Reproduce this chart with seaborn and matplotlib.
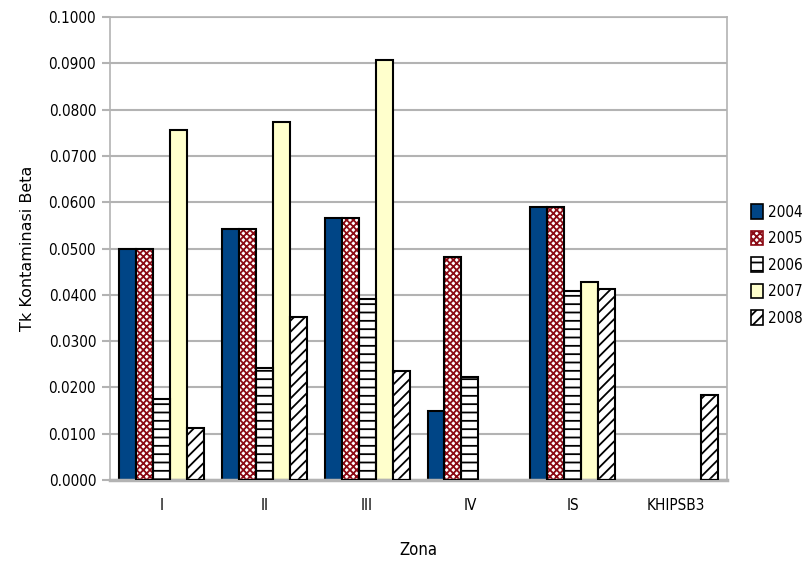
import pandas as pd
import matplotlib.pyplot as plt
import seaborn as sns
from matplotlib.patches import Patch, Rectangle

# values
zones = ['I', 'II', 'III', 'IV', 'IS', 'KHIPSB3']
years = ['2004', '2005', '2006', '2007', '2008']
v2004 = [0.0500, 0.0543, 0.0565, 0.0149, 0.0589, 0.0]
v2005 = [0.0500, 0.0543, 0.0565, 0.0481, 0.0589, 0.0]
v2006 = [0.0175, 0.0241, 0.0390, 0.0222, 0.0408, 0.0]
v2007 = [0.0756, 0.0774, 0.0908, 0.0, 0.0427, 0.0]
v2008 = [0.0112, 0.0353, 0.0235, 0.0, 0.0412, 0.0183]

GRID = '#b3b3b3'
styles = {
    '2004': dict(facecolor='#004586', hatch=None, hcolor='black'),
    '2005': dict(facecolor='white', hatch='xxxxx', hcolor='#8b0a14'),
    '2006': dict(facecolor='white', hatch='--', hcolor='black'),
    '2007': dict(facecolor='#ffffcc', hatch=None, hcolor='black'),
    '2008': dict(facecolor='white', hatch='///', hcolor='black'),
}

rows = []
for yr, vals in zip(years, [v2004, v2005, v2006, v2007, v2008]):
    for z, v in zip(zones, vals):
        rows.append({'Zona': z, 'Tahun': yr, 'Nilai': v})
df = pd.DataFrame(rows)

sns.set_theme(style='white')
plt.rcParams['font.family'] = ['DejaVu Sans']
plt.rcParams['font.stretch'] = 'condensed'
plt.rcParams['text.color'] = 'black'
plt.rcParams['xtick.color'] = 'black'
plt.rcParams['ytick.color'] = 'black'
plt.rcParams['axes.labelcolor'] = 'black'
plt.rcParams['hatch.linewidth'] = 1.3

fig = plt.figure(figsize=(8.06, 5.71), dpi=100)
ax = fig.add_axes([0.1365, 0.1594, 0.902 - 0.1365, 0.970 - 0.1594])

sns.barplot(data=df, x='Zona', y='Nilai', hue='Tahun', order=zones, hue_order=years,
            width=0.825, ax=ax, legend=False, errorbar=None, saturation=1)

for yr, cont in zip(years, ax.containers):
    st = styles[yr]
    for bar in cont:
        if bar.get_height() == 0:
            bar.set_visible(False)
            continue
        bar.set_facecolor(st['facecolor'])
        if st['hatch']:
            bar.set_edgecolor(st['hcolor'])
            bar.set_linewidth(0)
            bar.set_hatch(st['hatch'])
            ax.add_patch(Rectangle(bar.get_xy(), bar.get_width(), bar.get_height(),
                                   fill=False, edgecolor='black', linewidth=1.5, zorder=3))
        else:
            bar.set_edgecolor('black')
            bar.set_linewidth(1.5)

ax.set_ylim(0, 0.1)
ax.set_xlim(-0.5, len(zones) - 0.5)
ax.set_yticks([i / 100 for i in range(11)])
ax.set_yticklabels([f'{i / 100:.4f}' for i in range(11)], fontsize=11)
ax.yaxis.grid(True, color=GRID, linewidth=1.5)
ax.set_axisbelow(True)

ax.set_xticks(range(len(zones)))
ax.set_xticklabels(zones, fontsize=11)
ax.set_xticks([i - 0.5 for i in range(len(zones) + 1)], minor=True)
ax.tick_params(axis='x', which='major', length=0, pad=13)
ax.tick_params(axis='x', which='minor', length=10, width=1.5, color=GRID, direction='out')
ax.tick_params(axis='y', length=6, width=1.5, color=GRID, labelcolor='black',
               direction='out', left=True, pad=4)

for side in ['left', 'right', 'top']:
    ax.spines[side].set_color(GRID)
    ax.spines[side].set_linewidth(1.2)
ax.spines['bottom'].set_color(GRID)
ax.spines['bottom'].set_linewidth(2.5)

ax.set_xlabel('Zona', fontsize=12, labelpad=20)
ax.set_ylabel('Tk Kontaminasi Beta', fontsize=11.5, fontstretch='normal', labelpad=10)

handles = []
for yr in years:
    st = styles[yr]
    handles.append(Patch(facecolor=st['facecolor'], edgecolor=st['hcolor'] if st['hatch'] else 'black',
                         hatch=st['hatch'], linewidth=1.2, label=yr))
fig.legend(handles=handles, loc='center left', bbox_to_anchor=(0.932, 0.536), frameon=False,
           fontsize=11, handlelength=0.8, handleheight=1.1, handletextpad=0.3,
           labelspacing=0.72, borderaxespad=0, borderpad=0)

plt.savefig('out.png', dpi=100)
